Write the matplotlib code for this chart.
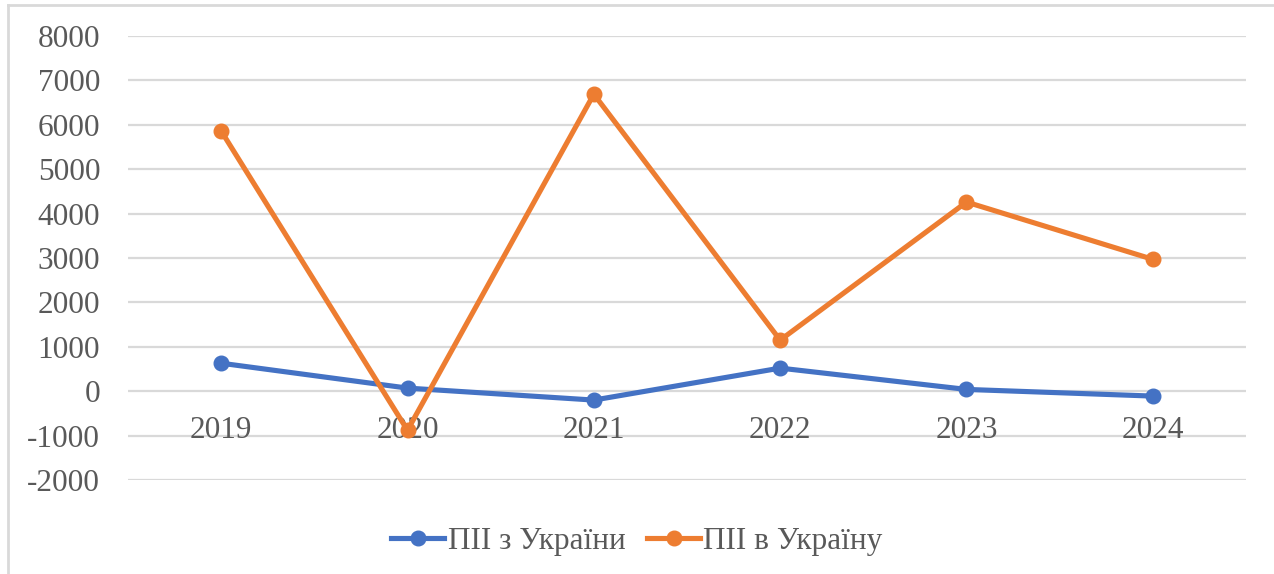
import matplotlib.pyplot as plt
from matplotlib.lines import Line2D

years = ['2019', '2020', '2021', '2022', '2023', '2024']
fdi_from_ukraine = [630, 70, -200, 520, 40, -110]
fdi_to_ukraine = [5860, -880, 6690, 1150, 4260, 2970]
y_ticks = list(range(-2000, 8001, 1000))

plt.rcParams['font.family'] = ['Liberation Serif', 'DejaVu Serif']
text_color = '#595959'
grid_color = '#D9D9D9'
fs = 22.5

W, H = 1274, 574
fig = plt.figure(figsize=(W / 100, H / 100), dpi=100)
ax = fig.add_axes([128 / W, 1 - 480 / H, (1246 - 128) / W, (480 - 36) / H])

x = list(range(len(years)))
ax.plot(x, fdi_from_ukraine, color='#4472C4', lw=3.7, marker='o', ms=10.5,
        label='ПІІ з України', solid_capstyle='round', zorder=3)
ax.plot(x, fdi_to_ukraine, color='#ED7D31', lw=3.7, marker='o', ms=10.5,
        label='ПІІ в Україну', solid_capstyle='round', zorder=3)

ax.set_xlim(-0.5, len(years) - 0.5)
ax.set_ylim(-2000, 8000)
ax.set_yticks(y_ticks)
ax.set_yticklabels([str(v) for v in y_ticks])
ax.yaxis.grid(True, color=grid_color, lw=1.6)
ax.set_axisbelow(True)

# category labels sit right under the zero line, like Excel
ax.set_xticks(x)
ax.set_xticklabels(years)
ax.spines['bottom'].set_position(('data', 0))
for s in ax.spines.values():
    s.set_visible(False)
ax.tick_params(axis='both', length=0, labelsize=fs, labelcolor=text_color)
ax.tick_params(axis='y', pad=20)
ax.tick_params(axis='x', pad=18)
ax.xaxis.set_zorder(2)  # keep year labels above the gridlines

handles = [Line2D([], [], color='#4472C4', lw=3.7, marker='o', ms=10.5),
           Line2D([], [], color='#ED7D31', lw=3.7, marker='o', ms=10.5)]
fig.legend(handles, ['ПІІ з України', 'ПІІ в Україну'], loc='center',
           bbox_to_anchor=(0.5, 1 - 541 / H), ncol=2, frameon=False,
           fontsize=fs, labelcolor=text_color, handlelength=1.7,
           handletextpad=0.1, columnspacing=0.7)

# chart area border (top and left visible)
fig.add_artist(Line2D([8 / W, 1], [1 - 5 / H, 1 - 5 / H], transform=fig.transFigure,
                      color=grid_color, lw=2))
fig.add_artist(Line2D([8 / W, 8 / W], [0, 1 - 5 / H], transform=fig.transFigure,
                      color=grid_color, lw=2))

fig.savefig('out.png', dpi=100)
